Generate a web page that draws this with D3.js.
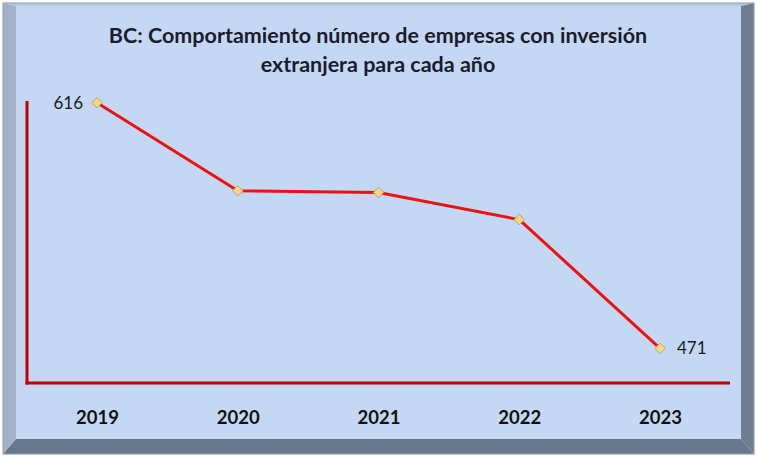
<!DOCTYPE html>
<html><head><meta charset="utf-8">
<script src="https://cdn.jsdelivr.net/npm/d3@7"></script>
<style>body{margin:0;background:#fff}svg{display:block}</style>
</head><body>
<script>
const years = ["2019","2020","2021","2022","2023"];
const empresas = [616, 564, 563, 547, 471];
const shownLabels = ["616", "", "", "", "471"];
const titleLines = ["BC: Comportamiento número de empresas con inversión", "extranjera para cada año"];

const W = 757, H = 457;
const svg = d3.select("body").append("svg").attr("width", W).attr("height", H);

// bevel frame
const L = 3, T = 3, R = 754, B = 454;
const iL = 16, iT = 6, iR = 741, iB = 439;
svg.append("rect").attr("x",0).attr("y",0).attr("width",W).attr("height",H).attr("fill","#ffffff");
svg.append("polygon").attr("points",`${L},${T} ${R},${T} ${iR},${iT} ${iL},${iT}`).attr("fill","#b8c8de");
svg.append("polygon").attr("points",`${L},${T} ${iL},${iT} ${iL},${iB} ${L},${B}`).attr("fill","#a2b2c8");
svg.append("polygon").attr("points",`${R},${T} ${R},${B} ${iR},${iB} ${iR},${iT}`).attr("fill","#6f7d92");
svg.append("polygon").attr("points",`${L},${B} ${iL},${iB} ${iR},${iB} ${R},${B}`).attr("fill","#67778c");
svg.append("rect").attr("x",iL).attr("y",iT).attr("width",iR-iL).attr("height",iB-iT).attr("fill","#c5d8f3");
svg.append("rect").attr("x",L).attr("y",T).attr("width",R-L).attr("height",B-T).attr("fill","none").attr("stroke","#8e9aaa").attr("stroke-width",1);

// title
svg.append("text").attr("text-anchor","middle").attr("font-family","Lato, sans-serif")
  .attr("font-weight","bold").attr("font-size",21.5).attr("fill","#1b1b2e")
  .selectAll("tspan").data(titleLines).join("tspan")
  .attr("x",378).attr("y",(d,i)=>43+i*29).text(d=>d);

const x = d3.scalePoint().domain(years).range([97, 660]);
const y = d3.scaleLinear().domain([450, 617]).range([384, 101]);

// axes
const axY = 383, axX = 27;
svg.append("line").attr("x1",axX).attr("x2",axX).attr("y1",101).attr("y2",axY+1.5).attr("stroke","#c00000").attr("stroke-width",3);
svg.append("line").attr("x1",axX-1.5).attr("x2",730).attr("y1",axY).attr("y2",axY).attr("stroke","#c00000").attr("stroke-width",3);

const xAxis = svg.append("g").attr("transform",`translate(0,${axY})`)
  .call(d3.axisBottom(x).tickSize(0).tickPadding(28));
xAxis.select(".domain").remove();
xAxis.selectAll("text").attr("font-family","Lato, sans-serif").attr("font-weight","bold")
  .attr("font-size",18.5).attr("fill","#111");

// line
const data = years.map((yr,i)=>({yr, v: empresas[i], lab: shownLabels[i]}));
svg.append("path").datum(data)
  .attr("d", d3.line().x(d=>x(d.yr)).y(d=>y(d.v)))
  .attr("fill","none").attr("stroke","#ee1111").attr("stroke-width",3).attr("stroke-linejoin","round");

svg.selectAll(".mk").data(data).join("path").attr("class","mk")
  .attr("transform", d=>`translate(${x(d.yr)},${y(d.v)})`)
  .attr("d", d3.symbol(d3.symbolDiamond2, 70)())
  .attr("fill","#f7d77c").attr("stroke","#a8a884").attr("stroke-width",1);

svg.selectAll(".lab").data(data.filter(d=>d.lab)).join("text").attr("class","lab")
  .attr("x", (d,i)=> i===0 ? x(d.yr)-14 : x(d.yr)+17)
  .attr("y", d=>y(d.v)+6)
  .attr("text-anchor", (d,i)=> i===0 ? "end" : "start")
  .attr("font-family","Lato, sans-serif").attr("font-size",17).attr("fill","#1a1a2a")
  .text(d=>d.lab);
</script>
</body></html>
